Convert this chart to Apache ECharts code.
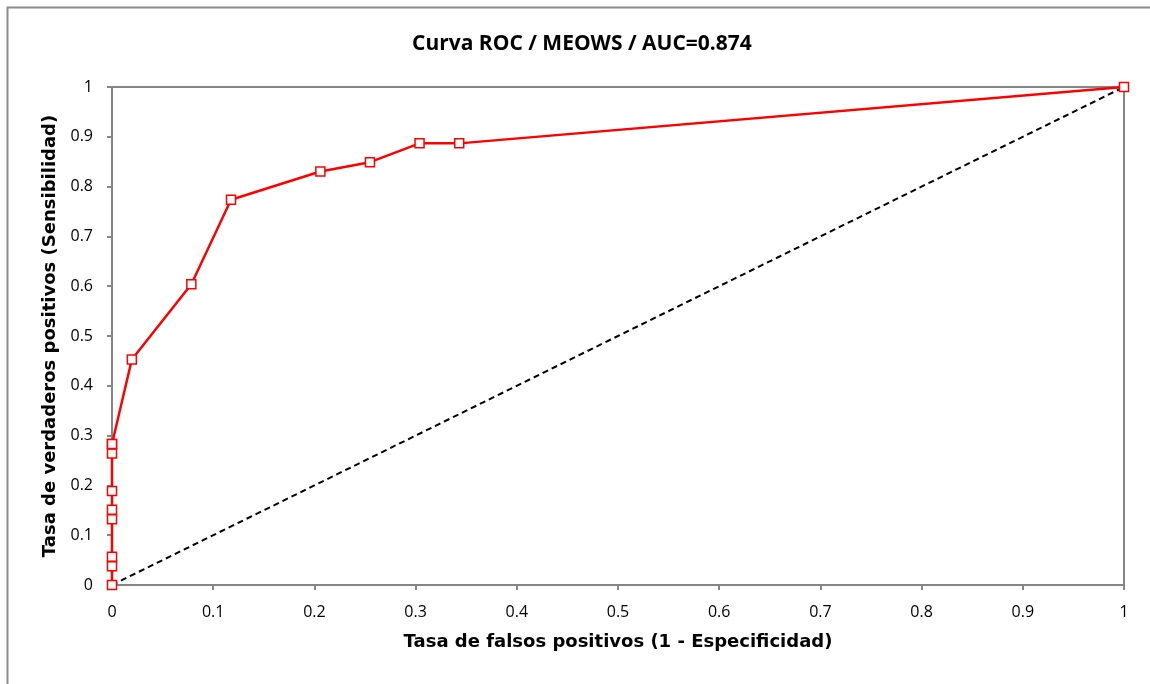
<!DOCTYPE html>
<html>
<head>
<meta charset="utf-8">
<script src="https://cdn.jsdelivr.net/npm/echarts@6/dist/echarts.min.js"></script>
<style>html,body{margin:0;padding:0;background:#fff;}#c{width:1150px;height:684px;}</style>
</head>
<body>
<div id="c"></div>
<script>
const titleText = 'Curva ROC / MEOWS / AUC=0.874';
const xName = 'Tasa de falsos positivos (1 - Especificidad)';
const yName = 'Tasa de verdaderos positivos (Sensibilidad)';
const fpr = [0, 0, 0, 0, 0, 0, 0, 0, 0, 0.0196, 0.0784, 0.1176, 0.2059, 0.2549, 0.3039, 0.3431, 1];
const tpr = [0, 0.0377, 0.0566, 0.1321, 0.1509, 0.1887, 0.2642, 0.2830, 0.2830, 0.4528, 0.6038, 0.7736, 0.8302, 0.8491, 0.8868, 0.8868, 1];
const diagX = [0, 1];
const diagY = [0, 1];

const chart = echarts.init(document.getElementById('c'));
const axisGray = '#868686';
chart.setOption({
  backgroundColor: '#fff',
  animation: false,
  title: {
    text: titleText, left: 407, top: 29,
    textStyle: { fontFamily: 'Open Sans', fontWeight: 'bold', fontSize: 21, color: '#000' }
  },
  graphic: [{
    type: 'rect', left: 5, top: 5, silent: true,
    shape: { x: 0, y: 0, width: 1160, height: 700 },
    style: { fill: 'none', stroke: '#8c8c8c', lineWidth: 2 }
  }],
  grid: { left: 112, right: 26, top: 87, bottom: 99, show: true, borderColor: axisGray, borderWidth: 2, backgroundColor: 'transparent' },
  xAxis: {
    type: 'value', min: 0, max: 1, interval: 0.1,
    name: xName, nameLocation: 'middle', nameGap: 48,
    nameTextStyle: { fontFamily: 'DejaVu Sans', fontWeight: 'bold', fontSize: 18, color: '#000' },
    axisLine: { show: true, lineStyle: { color: axisGray, width: 2 } },
    axisTick: { show: true, inside: false, length: 5, lineStyle: { color: axisGray, width: 2 } },
    splitLine: { show: false },
    axisLabel: { fontFamily: 'Open Sans', fontSize: 16, color: '#000', margin: 19,
      formatter: v => String(Math.round(v * 10) / 10) }
  },
  yAxis: {
    type: 'value', min: 0, max: 1, interval: 0.1,
    name: yName, nameLocation: 'middle', nameGap: 43,
    nameTextStyle: { fontFamily: 'DejaVu Sans', fontWeight: 'bold', fontSize: 18, color: '#000' },
    axisLine: { show: true, lineStyle: { color: axisGray, width: 2 } },
    axisTick: { show: true, length: 5, lineStyle: { color: axisGray, width: 2 } },
    splitLine: { show: false },
    axisLabel: { fontFamily: 'Open Sans', fontSize: 16, color: '#000', margin: 19,
      formatter: v => String(Math.round(v * 10) / 10) }
  },
  series: [
    {
      type: 'line', data: diagX.map((x, i) => [x, diagY[i]]),
      symbol: 'none', z: 2,
      lineStyle: { color: '#000', width: 2, type: [6, 4] }
    },
    {
      type: 'line', data: fpr.map((x, i) => [x, tpr[i]]),
      symbol: 'rect', symbolSize: 9, showSymbol: true, z: 3,
      lineStyle: { color: '#ff0000', width: 2.5 },
      itemStyle: { color: '#fff', borderColor: '#ff0000', borderWidth: 1.5 }
    }
  ]
});
</script>
</body>
</html>
